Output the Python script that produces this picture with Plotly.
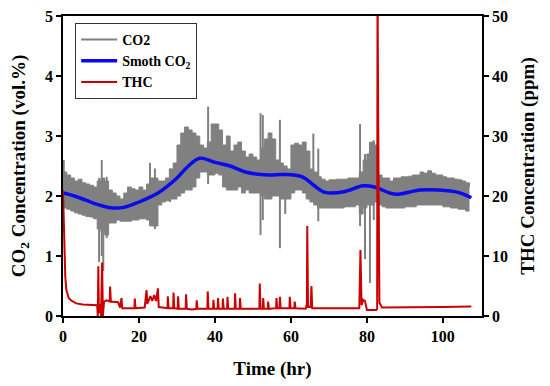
import plotly.graph_objects as go

# ---- CO2 band (hourly envelope of the raw CO2 signal, vol.%) ----
co2_t = list(range(0, 108))
co2_hi = [2.40, 2.35, 2.30, 2.25, 2.28, 2.22, 2.20, 2.18, 2.15, 2.25,
          2.30, 2.25, 2.10, 2.05, 2.00, 1.95, 2.05, 2.15, 2.12, 2.10,
          2.15, 2.10, 2.20, 2.30, 2.30, 2.25, 2.25, 2.30, 2.45, 2.55,
          2.85, 3.05, 3.15, 3.10, 3.05, 3.00, 2.85, 2.80, 2.90, 3.20,
          3.20, 3.10, 2.85, 3.00, 2.75, 2.85, 2.90, 2.75, 2.65, 2.70,
          2.65, 2.60, 2.80, 2.95, 3.05, 2.95, 2.60, 2.55, 2.50, 2.45,
          2.85, 2.88, 2.85, 2.90, 2.75, 2.45, 2.40, 2.32, 2.28, 2.25,
          2.27, 2.27, 2.28, 2.28, 2.28, 2.30, 2.30, 2.30, 2.40, 2.60,
          2.70, 2.90, 2.85, 2.35, 2.30, 2.30, 2.25, 2.30, 2.30, 2.32,
          2.32, 2.33, 2.35, 2.35, 2.40, 2.38, 2.42, 2.38, 2.35, 2.35,
          2.32, 2.30, 2.30, 2.28, 2.27, 2.25, 2.22, 2.15]
co2_lo = [1.80, 1.78, 1.75, 1.72, 1.70, 1.68, 1.66, 1.65, 1.62, 1.45,
          1.40, 1.35, 1.55, 1.55, 1.60, 1.58, 1.58, 1.58, 1.60, 1.60,
          1.62, 1.62, 1.60, 1.50, 1.50, 1.85, 1.90, 1.92, 1.95, 1.95,
          2.00, 2.05, 2.10, 2.10, 2.15, 2.30, 2.40, 2.40, 2.35, 2.35,
          2.38, 2.35, 2.15, 2.10, 2.10, 2.10, 2.15, 2.05, 2.10, 2.05,
          2.05, 2.05, 2.00, 1.95, 1.95, 2.00, 2.00, 1.95, 1.95, 1.95,
          2.05, 2.10, 2.10, 2.05, 1.95, 1.90, 1.85, 1.80, 1.80, 1.80,
          1.80, 1.80, 1.80, 1.80, 1.82, 1.82, 1.82, 1.85, 1.70, 1.80,
          1.85, 1.85, 1.90, 1.85, 1.82, 1.80, 1.80, 1.80, 1.80, 1.80,
          1.82, 1.82, 1.82, 1.85, 1.85, 1.85, 1.85, 1.85, 1.85, 1.85,
          1.82, 1.82, 1.80, 1.80, 1.78, 1.78, 1.75, 1.75]

# ---- CO2 isolated excursions (time, low, high) ----
spike_t = [0.2, 9.5, 10.2, 10.6, 11.5, 22.9, 24.2, 28.2, 38.2, 52.0,
           52.6, 57.1, 58.5, 65.9, 67.2, 78.2, 79.5, 80.8, 81.8]
spike_lo = [1.80, 0.90, 1.00, 0.75, 1.30, 1.50, 1.45, 1.90, 2.20, 1.35,
            1.60, 1.13, 1.70, 1.90, 1.58, 1.50, 0.95, 0.55, 1.60]
spike_hi = [2.60, 2.30, 2.60, 2.00, 2.32, 2.55, 2.46, 2.46, 3.49, 3.38,
            3.35, 3.27, 2.50, 3.04, 2.79, 3.20, 2.70, 2.90, 2.93]

# ---- Smoothed CO2 ----
smooth_t = [0, 3, 6, 9, 12, 16, 20, 25, 30, 33, 36, 40, 44, 48, 54, 58,
            63, 66, 69, 74, 79, 82, 86, 88, 94, 99, 104, 107.5]
smooth_v = [2.05, 2.00, 1.93, 1.86, 1.81, 1.81, 1.90, 2.05, 2.30, 2.50,
            2.63, 2.56, 2.50, 2.40, 2.35, 2.36, 2.32, 2.18, 2.06, 2.07,
            2.17, 2.15, 2.05, 2.03, 2.10, 2.10, 2.06, 1.97]

# ---- THC (ppm) ----
thc_t = [0, 0.3, 0.6, 0.9, 1.5, 2.3, 3.5, 5.2, 8.6, 9.0, 9.15, 9.3, 9.45,
         9.8, 10.0, 10.3, 10.5, 10.8, 11.5, 12.3, 12.4, 12.6, 14.5, 15.0,
         15.4, 15.6, 18.8, 18.9, 19.1, 21.5, 22.0, 22.2, 23.0, 23.5, 24.0,
         24.5, 25.0, 25.2, 27.5, 27.6, 27.8, 29.0, 29.1, 29.3, 30.2, 30.3,
         30.5, 32.3, 32.4, 32.6, 34.0, 35.1, 35.2, 35.4, 38.0, 38.1, 38.3,
         39.5, 39.6, 39.8, 40.7, 40.8, 41.0, 42.0, 42.1, 42.3, 43.2, 43.3,
         43.5, 45.2, 45.3, 45.5, 46.5, 46.6, 46.8, 51.7, 51.8, 52.0, 52.6,
         52.7, 52.9, 53.9, 54.0, 54.2, 56.1, 56.2, 56.4, 57.0, 57.1, 57.3,
         59.6, 59.7, 59.9, 60.9, 61.0, 61.2, 63.9, 64.2, 64.3, 64.5, 65.2,
         65.4, 65.6, 70.0, 75.0, 78.0, 78.3, 78.6, 79.0, 79.5, 80.0, 82.5,
         82.7, 82.8, 83.0, 83.3, 84.0, 90.0, 100.0, 107.5]
thc_v = [21, 12, 6.5, 4.3, 3.0, 2.5, 2.1, 1.9, 1.9, 1.8, 0, 8.3, 0.5,
         2.0, 0, 8.9, 0, 2.4, 2.6, 2.4, 4.9, 2.4, 2.3, 1.4,
         3.0, 1.3, 1.3, 2.9, 1.3, 1.4, 4.3, 2.0, 3.3, 2.5, 3.5,
         2.5, 4.6, 1.5, 1.3, 3.3, 1.3, 1.3, 3.9, 1.3, 1.2, 3.3,
         1.2, 1.2, 3.6, 1.2, 1.1, 1.2, 2.6, 1.2, 1.2, 4.1, 1.2,
         1.2, 2.7, 1.2, 1.2, 3.0, 1.2, 1.2, 2.9, 1.2, 1.2, 3.2,
         1.2, 1.2, 3.8, 1.2, 1.2, 3.0, 1.2, 1.2, 5.4, 1.2, 1.2,
         3.0, 1.2, 1.2, 2.4, 1.2, 1.3, 3.0, 1.3, 1.3, 3.2, 1.3,
         1.3, 3.2, 1.3, 1.3, 2.4, 1.3, 1.2, 2.0, 15.0, 1.5, 1.5,
         5.0, 1.3, 1.3, 1.3, 1.3, 11.0, 1.8, 2.7, 2.5, 1.0, 1.0,
         1.2, 55.0, 30.0, 2.2, 1.4, 1.4, 1.5, 1.6]

GRAY = "#808080"
BLUE = "#0a0aee"
RED = "#cc0000"
FONT = "Liberation Serif"

# vertical excursion segments
sx, sy = [], []
for t, lo, hi in zip(spike_t, spike_lo, spike_hi):
    sx += [t, t, None]
    sy += [lo, hi, None]

fig = go.Figure()
fig.add_trace(go.Scatter(x=co2_t, y=co2_lo, mode="lines",
                         line=dict(color=GRAY, width=1, shape="hv"),
                         showlegend=False, hoverinfo="skip"))
fig.add_trace(go.Scatter(x=co2_t, y=co2_hi, mode="lines", fill="tonexty",
                         fillcolor=GRAY, line=dict(color=GRAY, width=1, shape="hv"),
                         showlegend=False, hoverinfo="skip"))
fig.add_trace(go.Scatter(x=sx, y=sy, mode="lines", name="CO2",
                         line=dict(color=GRAY, width=2)))
fig.add_trace(go.Scatter(x=smooth_t, y=smooth_v, mode="lines",
                         name="Smoth CO<sub>2</sub>",
                         line=dict(color=BLUE, width=3.5, shape="spline")))
fig.add_trace(go.Scatter(x=thc_t, y=thc_v, mode="lines", name="THC",
                         yaxis="y2", line=dict(color=RED, width=2)))

tickfont = dict(family=FONT, size=16, color="black", weight="bold")
titlefont = dict(family=FONT, size=19, color="black", weight="bold")

fig.update_layout(
    width=550, height=386,
    margin=dict(l=55, r=76, t=8, b=78),
    paper_bgcolor="white", plot_bgcolor="white",
    font=dict(family=FONT, color="black"),
    showlegend=True,
    legend=dict(x=0.029, y=0.977, xanchor="left", yanchor="top",
                traceorder="normal",
                bgcolor="white", bordercolor="#333333", borderwidth=1,
                font=dict(family=FONT, size=14, color="black", weight="bold"),
                tracegroupgap=0, itemwidth=36),
    xaxis=dict(range=[0, 110.3], tickvals=[0, 20, 40, 60, 80, 100],
               showgrid=False, zeroline=False, showline=True,
               linecolor="black", linewidth=1.5, mirror=True,
               ticks="outside", ticklen=5, tickwidth=1.5, tickcolor="black",
               tickfont=tickfont, automargin=False, ticklabeloverflow="allow",
               title=dict(text="Time (hr)", font=titlefont, standoff=18)),
    yaxis=dict(range=[0, 5], tickvals=[0, 1, 2, 3, 4, 5],
               showgrid=False, zeroline=False, showline=True,
               linecolor="black", linewidth=1.5,
               ticks="outside", ticklen=5, tickwidth=1.5, tickcolor="black",
               tickfont=tickfont, automargin=False, ticklabeloverflow="allow",
               title=dict(text="CO<sub>2</sub> Concentration (vol.%)",
                          font=titlefont, standoff=16)),
    yaxis2=dict(range=[0, 50], tickvals=[0, 10, 20, 30, 40, 50],
                overlaying="y", side="right",
                showgrid=False, zeroline=False, showline=True,
                linecolor="black", linewidth=1.5,
                ticks="outside", ticklen=5, tickwidth=1.5, tickcolor="black",
                tickfont=tickfont, automargin=False, ticklabeloverflow="allow",
                title=dict(text="THC Concentration (ppm)",
                           font=titlefont, standoff=14)),
)

fig.write_html("out.html")
